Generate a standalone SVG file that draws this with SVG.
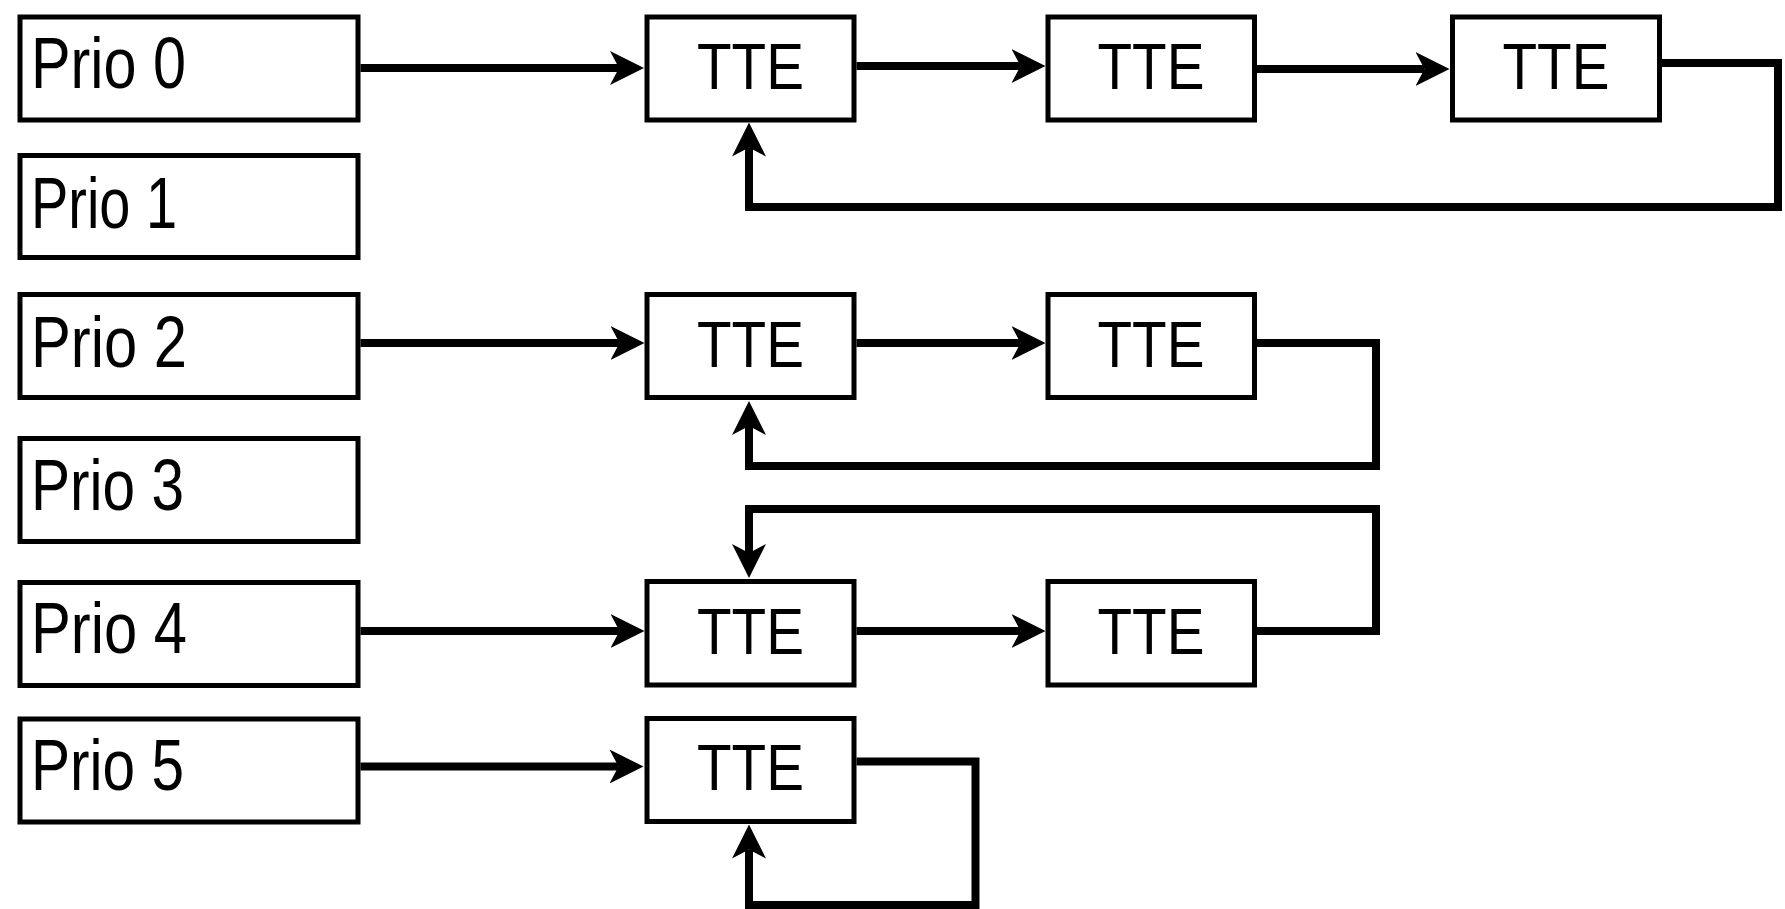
<svg xmlns="http://www.w3.org/2000/svg" width="1785" height="909" viewBox="0 0 1785 909">
<style>
.box{fill:#fff;stroke:#000;stroke-width:5}
.prio{font-family:"Liberation Sans",Arial,sans-serif;font-size:72px;fill:#000}
.tte{font-family:"Liberation Sans",Arial,sans-serif;font-size:64px;fill:#000;text-anchor:middle}
.c{fill:none;stroke:#000;stroke-width:8;stroke-linejoin:miter;stroke-linecap:butt;marker-end:url(#ah)}
</style>
<defs>
<marker id="ah" viewBox="0 0 34 34" refX="9" refY="17" markerWidth="34" markerHeight="34" markerUnits="userSpaceOnUse" orient="auto">
<path d="M0,0 L34,17 L0,34 L9,17 Z" fill="#000"/>
</marker>
</defs>
<rect width="1785" height="909" fill="#fff"/>
<g id="prio0"><rect class="box" x="20" y="17" width="338" height="103"/><text class="prio" x="31" y="88" textLength="155" lengthAdjust="spacingAndGlyphs">Prio 0</text></g>
<g id="prio1"><rect class="box" x="20" y="155.5" width="338" height="102"/><text class="prio" x="31" y="228" textLength="146" lengthAdjust="spacingAndGlyphs">Prio 1</text></g>
<g id="prio2"><rect class="box" x="20" y="294.5" width="338" height="103"/><text class="prio" x="31" y="366.5" textLength="156" lengthAdjust="spacingAndGlyphs">Prio 2</text></g>
<g id="prio3"><rect class="box" x="20" y="438.5" width="338" height="103"/><text class="prio" x="31" y="510" textLength="153" lengthAdjust="spacingAndGlyphs">Prio 3</text></g>
<g id="prio4"><rect class="box" x="20" y="582.5" width="338" height="103"/><text class="prio" x="31" y="653" textLength="156" lengthAdjust="spacingAndGlyphs">Prio 4</text></g>
<g id="prio5"><rect class="box" x="20" y="719" width="338" height="103"/><text class="prio" x="31" y="790" textLength="153" lengthAdjust="spacingAndGlyphs">Prio 5</text></g>

<g id="tte0a"><rect class="box" x="647" y="17" width="207" height="103"/><text class="tte" x="750.5" y="89" textLength="107" lengthAdjust="spacingAndGlyphs">TTE</text></g>
<g id="tte0b"><rect class="box" x="1048" y="17" width="206.5" height="103"/><text class="tte" x="1151" y="89" textLength="107" lengthAdjust="spacingAndGlyphs">TTE</text></g>
<g id="tte0c"><rect class="box" x="1452.5" y="17" width="207" height="103"/><text class="tte" x="1556" y="89" textLength="107" lengthAdjust="spacingAndGlyphs">TTE</text></g>
<g id="tte2a"><rect class="box" x="647" y="294.5" width="207" height="103"/><text class="tte" x="750.5" y="366.5" textLength="107" lengthAdjust="spacingAndGlyphs">TTE</text></g>
<g id="tte2b"><rect class="box" x="1048" y="294.5" width="206.5" height="103"/><text class="tte" x="1151" y="366.5" textLength="107" lengthAdjust="spacingAndGlyphs">TTE</text></g>
<g id="tte4a"><rect class="box" x="647" y="581.5" width="207" height="103.5"/><text class="tte" x="750.5" y="653.5" textLength="107" lengthAdjust="spacingAndGlyphs">TTE</text></g>
<g id="tte4b"><rect class="box" x="1048" y="581.5" width="206.5" height="103.5"/><text class="tte" x="1151" y="653.5" textLength="107" lengthAdjust="spacingAndGlyphs">TTE</text></g>
<g id="tte5a"><rect class="box" x="647" y="718.5" width="207" height="103"/><text class="tte" x="750.5" y="790" textLength="107" lengthAdjust="spacingAndGlyphs">TTE</text></g>

<g id="connectors">
<path class="c" d="M360.5,68 H619"/>
<path class="c" d="M856.5,66 H1020.5"/>
<path class="c" d="M1257,69 H1424.5"/>
<path class="c" d="M1662,63 H1778 V207 H749 V147.5"/>

<path class="c" d="M360.5,343 H619.5"/>
<path class="c" d="M856.5,343 H1020.5"/>
<path class="c" d="M1257,343 H1376 V466 H749 V426"/>

<path class="c" d="M360.5,631 H619.5"/>
<path class="c" d="M856.5,631 H1020.5"/>
<path class="c" d="M1257,631 H1376 V509 H749 V553"/>

<path class="c" d="M360.5,766.5 H618.5"/>
<path class="c" d="M856.5,761.5 H975.5 V905 H749 V849.5"/>
</g>
</svg>
